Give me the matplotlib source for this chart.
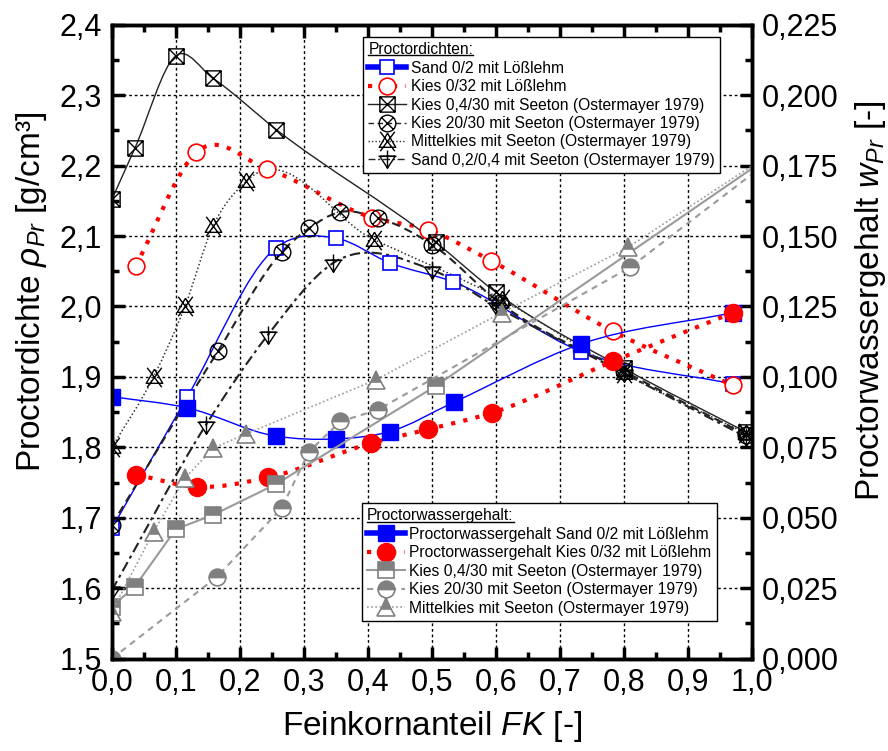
import numpy as np
import matplotlib
matplotlib.use("Agg")
from matplotlib import pyplot
from matplotlib.path import Path
from matplotlib.patches import PathPatch
from matplotlib.lines import Line2D
from matplotlib.ticker import MultipleLocator, FuncFormatter

pyplot.rcParams["font.family"] = ["Liberation Sans", "DejaVu Sans"]
pyplot.rcParams["mathtext.fontset"] = "custom"
pyplot.rcParams["mathtext.rm"] = "Liberation Sans"
pyplot.rcParams["mathtext.it"] = "Liberation Sans:italic"

# ---- Proctordichte (left axis, g/cm3) ----
sand02_x = [0.0, 0.118, 0.256, 0.350, 0.434, 0.533, 0.733, 0.970]
sand02_d = [1.685, 1.872, 2.083, 2.097, 2.062, 2.035, 1.936, 1.890]

kies032_x = [0.037, 0.132, 0.243, 0.407, 0.494, 0.592, 0.782, 0.970]
kies032_d = [2.057, 2.219, 2.195, 2.126, 2.109, 2.065, 1.965, 1.888]

k0430_x = [0.0, 0.036, 0.100, 0.158, 0.257, 0.506, 0.600, 0.800, 0.990]
k0430_d = [2.152, 2.225, 2.356, 2.324, 2.251, 2.091, 2.020, 1.912, 1.822]

k2030_x = [0.0, 0.166, 0.265, 0.308, 0.356, 0.415, 0.500, 0.606, 0.800, 0.990]
k2030_d = [1.690, 1.937, 2.077, 2.111, 2.134, 2.126, 2.088, 2.005, 1.908, 1.818]

mk_x = [0.0, 0.065, 0.114, 0.158, 0.210, 0.409, 0.609, 0.800, 0.990]
mk_d = [1.800, 1.900, 2.000, 2.114, 2.178, 2.095, 2.010, 1.905, 1.820]

s0204_x = [0.0, 0.147, 0.244, 0.346, 0.500, 0.600, 0.800, 0.990]
s0204_d = [1.597, 1.832, 1.960, 2.062, 2.052, 2.000, 1.905, 1.815]

# ---- Proctorwassergehalt (right axis, -) ----
sand02_wx = [0.0, 0.118, 0.256, 0.350, 0.434, 0.534, 0.733, 0.970]
sand02_w = [0.093, 0.089, 0.079, 0.078, 0.0806, 0.091, 0.1117, 0.1228]

kies032_wx = [0.038, 0.133, 0.244, 0.405, 0.494, 0.593, 0.782, 0.970]
kies032_w = [0.0653, 0.0610, 0.0643, 0.0765, 0.0814, 0.0872, 0.1055, 0.1228]

k0430_wx = [0.0, 0.036, 0.100, 0.158, 0.257, 0.506, 1.000]
k0430_w = [0.0185, 0.0256, 0.046, 0.051, 0.062, 0.0968, 0.174]

k2030_wx = [0.0, 0.164, 0.265, 0.308, 0.357, 0.415, 0.810, 1.000]
k2030_w = [0.000, 0.029, 0.0534, 0.0735, 0.0842, 0.0883, 0.139, 0.172]

mk_wx = [0.0, 0.065, 0.114, 0.158, 0.210, 0.4125, 0.609, 0.806, 1.000]
mk_w = [0.0167, 0.045, 0.064, 0.0747, 0.0798, 0.099, 0.1228, 0.146, 0.175]

GREY = "#808080"


def spline_path(x, y):
    # cubic Hermite curve through the points, as a bezier path
    x = np.asarray(x, float)
    y = np.asarray(y, float)
    h = np.diff(x)
    s = np.diff(y) / h
    m = np.empty_like(y)
    m[0], m[-1] = s[0], s[-1]
    m[1:-1] = (s[:-1] * h[1:] + s[1:] * h[:-1]) / (h[:-1] + h[1:])
    verts = [(x[0], y[0])]
    codes = [Path.MOVETO]
    for i in range(len(h)):
        verts += [(x[i] + h[i] / 3, y[i] + m[i] * h[i] / 3),
                  (x[i + 1] - h[i] / 3, y[i + 1] - m[i + 1] * h[i] / 3),
                  (x[i + 1], y[i + 1])]
        codes += [Path.CURVE4] * 3
    return Path(verts, codes)


def line_marker(*segments):
    verts, codes = [], []
    for seg in segments:
        verts += seg
        codes += [Path.MOVETO] + [Path.LINETO] * (len(seg) - 1)
    return Path(verts, codes)


circ = Path.unit_circle()
d = 0.707
BOX_X = line_marker([(-1, -1), (1, -1), (1, 1), (-1, 1), (-1, -1)],
                    [(-1, -1), (1, 1)], [(-1, 1), (1, -1)])
CIRC_X = Path.make_compound_path(circ, line_marker([(-d, -d), (d, d)], [(-d, d), (d, -d)]))
TRI_X = line_marker([(0, 0.85), (-0.85, -0.6), (0.85, -0.6), (0, 0.85)],
                    [(-0.75, -1), (0.75, 1)], [(-0.75, 1), (0.75, -1)])
TRI_PLUS = line_marker([(-0.85, 0.35), (0.85, 0.35), (0, -0.95), (-0.85, 0.35)],
                       [(0, 1), (0, -1)], [(-1, 0.35), (1, 0.35)])

fig = pyplot.figure(figsize=(8.88, 7.51), dpi=100)
ax = fig.add_axes([0.126, 0.123, 0.721, 0.844])
ax2 = ax.twinx()

# density series
dens = [
    (sand02_x, sand02_d, dict(color="blue", lw=1.0, ls="-"),
     dict(marker="s", ms=10, mfc="white", mec="blue", mew=1.2),
     "Sand 0/2 mit Lößlehm", 4),
    (kies032_x, kies032_d, dict(color="red", lw=3.0, ls=(0, (1, 2))),
     dict(marker="o", ms=12, mfc="white", mec="red", mew=1.2),
     "Kies 0/32 mit Lößlehm", 3),
    (k0430_x, k0430_d, dict(color="#222222", lw=1.0, ls="-"),
     dict(marker=BOX_X, ms=11, mfc="none", mec="black", mew=1.0),
     "Kies 0,4/30 mit Seeton (Ostermayer 1979)", 1.0),
    (k2030_x, k2030_d, dict(color="#222222", lw=1.5, ls=(0, (4, 2.5))),
     dict(marker=CIRC_X, ms=12, mfc="none", mec="black", mew=1.0),
     "Kies 20/30 mit Seeton (Ostermayer 1979)", 1.0),
    (mk_x, mk_d, dict(color="#333333", lw=1.1, ls=(0, (1, 1.5))),
     dict(marker=TRI_X, ms=14, mfc="none", mec="black", mew=1.0),
     "Mittelkies mit Seeton (Ostermayer 1979)", 1.0),
    (s0204_x, s0204_d, dict(color="#222222", lw=1.5, ls=(0, (5, 2, 1.5, 2))),
     dict(marker=TRI_PLUS, ms=13, mfc="none", mec="black", mew=1.0),
     "Sand 0,2/0,4 mit Seeton (Ostermayer 1979)", 1.0),
]
dens_handles = []
for x, y, lstyle, mstyle, label, legw in dens:
    ax.add_patch(PathPatch(spline_path(x, y), fill=False, edgecolor=lstyle["color"],
                           lw=lstyle["lw"], ls=lstyle["ls"], zorder=3))
    ax.plot(x, y, ls="none", zorder=4, **mstyle)
    dens_handles.append(Line2D([], [], color=lstyle["color"], lw=legw,
                               ls=lstyle["ls"], label=label, **mstyle))

# water content series
water_handles = []
ax2.add_patch(PathPatch(spline_path(sand02_wx, sand02_w), fill=False, edgecolor="blue", lw=1.0))
ax2.plot(sand02_wx, sand02_w, ls="none", marker="s", ms=11, mfc="blue", mec="blue")
water_handles.append(Line2D([], [], color="blue", lw=4, marker="s", ms=11, mfc="blue", mec="blue",
                            label="Proctorwassergehalt Sand 0/2 mit Lößlehm"))

ax2.add_patch(PathPatch(spline_path(kies032_wx, kies032_w), fill=False, edgecolor="red",
                        lw=3.0, ls=(0, (1, 2))))
ax2.plot(kies032_wx, kies032_w, ls="none", marker="o", ms=13, mfc="red", mec="red")
water_handles.append(Line2D([], [], color="red", lw=3, ls=(0, (1, 2)), marker="o", ms=13,
                            mfc="red", mec="red",
                            label="Proctorwassergehalt Kies 0/32 mit Lößlehm"))

grey_series = [
    (k0430_wx, k0430_w, "-", 1.5, "s", 11, "Kies 0,4/30 mit Seeton (Ostermayer 1979)"),
    (k2030_wx, k2030_w, (0, (3, 2.5)), 1.5, "o", 12, "Kies 20/30 mit Seeton (Ostermayer 1979)"),
    (mk_wx, mk_w, (0, (1, 1.5)), 1.2, "^", 13, "Mittelkies mit Seeton (Ostermayer 1979)"),
]
for x, y, ls, lw, mk, ms, label in grey_series:
    style = dict(color="#9a9a9a", lw=lw, ls=ls, marker=mk, ms=ms, fillstyle="top",
                 mfc=GREY, mfcalt="white", mec=GREY, mew=1.2)
    # the end point at FK = 1,0 carries no visible marker
    ax2.plot(x, y, markevery=list(range(len(x) - 1)), **style)
    water_handles.append(Line2D([], [], label=label, **style))

# axes formatting
ax.set_xlim(0, 1.0)
ax.set_ylim(1.5, 2.4)
ax2.set_ylim(0, 0.225)
ax.xaxis.set_major_locator(MultipleLocator(0.1))
ax.xaxis.set_minor_locator(MultipleLocator(0.05))
ax.yaxis.set_major_locator(MultipleLocator(0.1))
ax.yaxis.set_minor_locator(MultipleLocator(0.05))
ax2.yaxis.set_major_locator(MultipleLocator(0.025))
ax2.yaxis.set_minor_locator(MultipleLocator(0.0125))
ax.xaxis.set_major_formatter(FuncFormatter(lambda v, p: f"{v:.1f}".replace(".", ",")))
ax.yaxis.set_major_formatter(FuncFormatter(lambda v, p: f"{v:.1f}".replace(".", ",")))
ax2.yaxis.set_major_formatter(FuncFormatter(lambda v, p: f"{v:.3f}".replace(".", ",")))

ax.tick_params(which="both", direction="in", top=True, right=False, labelsize=22, pad=7)
ax.tick_params(which="major", length=9, width=2.5)
ax.tick_params(which="minor", length=5, width=2.5)
ax2.tick_params(which="both", direction="in", labelsize=22, pad=7)
ax2.tick_params(which="major", length=9, width=2.5)
ax2.tick_params(which="minor", length=5, width=2.5)
for a in (ax, ax2):
    for sp in a.spines.values():
        sp.set_linewidth(2.5)

ax.grid(True, which="major", color="black", ls=(0, (2, 2)), lw=1.0)

ax.set_xlabel("Feinkornanteil $FK$ [-]", fontsize=24, labelpad=8)
ax.set_ylabel(r"Proctordichte $\rho_{Pr}$ [g/cm³]", fontsize=24, labelpad=8, y=0.578)
ax2.set_ylabel("Proctorwassergehalt $w_{Pr}$ [-]", fontsize=24, labelpad=10, y=0.565)

leg_style = dict(fontsize=11.25, title_fontsize=11.25, alignment="left", frameon=True,
                 fancybox=False, framealpha=1, edgecolor="black", borderpad=0.35,
                 labelspacing=0.22, handlelength=2.4, handletextpad=0.3,
                 borderaxespad=0)
leg1 = ax2.legend(handles=dens_handles, title="Proctordichten:", loc="upper left",
                  bbox_to_anchor=(0.392, 0.981), **leg_style)
leg1.get_frame().set_linewidth(1.0)
ax2.add_artist(leg1)
leg2 = ax2.legend(handles=water_handles, title="Proctorwassergehalt:", loc="upper left",
                  bbox_to_anchor=(0.39, 0.2456), **leg_style)
leg2.get_frame().set_linewidth(1.0)

# underline legend titles
fig.canvas.draw()
renderer = fig.canvas.get_renderer()
for leg in (leg1, leg2):
    bb = leg.get_title().get_window_extent(renderer)
    yy = bb.y0 + 0.12 * bb.height
    pts = fig.transFigure.inverted().transform([(bb.x0, yy), (bb.x1, yy)])
    fig.add_artist(Line2D(pts[:, 0], pts[:, 1], transform=fig.transFigure,
                          color="black", lw=1.0))

fig.savefig("out.png", dpi=100)
